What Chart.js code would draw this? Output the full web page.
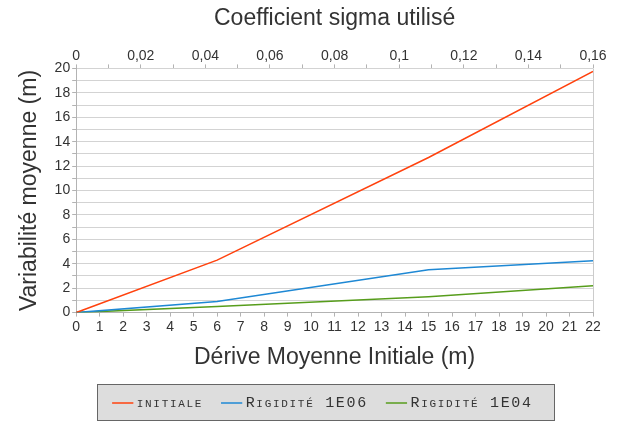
<!DOCTYPE html>
<html>
<head>
<meta charset="utf-8">
<script src="https://cdn.jsdelivr.net/npm/chart.js@4/dist/chart.umd.min.js"></script>
<style>
  html, body { margin: 0; padding: 0; background: #fff; }
  #wrap { width: 619px; height: 423px; }
</style>
</head>
<body>
<div id="wrap"><canvas id="chart" width="619" height="423"></canvas></div>
<script>
// data
const derive = [0, 6, 15, 22];
const initiale = [0, 4.3, 12.7, 19.75];
const rigidite1e06 = [0, 0.9, 3.5, 4.25];
const rigidite1e04 = [0, 0.5, 1.3, 2.2];

const seriesNames = ['initiale', 'Rigidité 1E06', 'Rigidité 1E04'];
const seriesColors = ['#ff420e', '#1e88d4', '#579d1c'];

const textColor = '#333333';
const legendPad = 22;

function pts(ys) {
  return derive.map((x, i) => ({ x: x, y: ys[i] }));
}

// small caps + spacing while the legend measures / writes its text
function withCaps(ctx, fn) {
  const ft = ctx.fillText, mt = ctx.measureText;
  ctx.fillText = function (...a) {
    this.fontVariantCaps = 'small-caps';
    this.letterSpacing = '1.7px';
    return ft.apply(this, a);
  };
  ctx.measureText = function (...a) {
    this.fontVariantCaps = 'small-caps';
    this.letterSpacing = '1.7px';
    return mt.apply(this, a);
  };
  try { return fn(); } finally {
    ctx.fillText = ft;
    ctx.measureText = mt;
    ctx.fontVariantCaps = 'normal';
    ctx.letterSpacing = '0px';
  }
}

// grey box behind the legend
const legendBox = {
  id: 'legendBox',
  afterInit(chart) {
    const lg = chart.legend;
    const origDraw = lg.draw, origFit = lg.fit;
    lg.draw = function () { return withCaps(chart.ctx, () => origDraw.apply(this, arguments)); };
    lg.fit = function () {
      const r = withCaps(chart.ctx, () => origFit.apply(this, arguments));
      this.height = 40;
      return r;
    };
  },
  afterLayout(chart) {
    const lg = chart.legend;
    lg.left += 20;
    lg.right += 20;
    const h = lg.bottom - lg.top;
    lg.top = 403 - legendPad - 7.5;
    lg.bottom = lg.top + h;
  },
  beforeDraw(chart) {
    const ctx = chart.ctx;
    const x0 = 97, x1 = 555;
    const y0 = 384, y1 = 421;
    ctx.save();
    ctx.fillStyle = '#dddddd';
    ctx.fillRect(x0, y0, x1 - x0, y1 - y0);
    ctx.strokeStyle = '#666666';
    ctx.lineWidth = 1;
    ctx.strokeRect(x0 + 0.5, y0 + 0.5, x1 - x0 - 1, y1 - y0 - 1);
    ctx.restore();
  }
};

new Chart(document.getElementById('chart'), {
  type: 'line',
  data: {
    datasets: [
      { label: seriesNames[0], data: pts(initiale), borderColor: seriesColors[0], backgroundColor: seriesColors[0], borderWidth: 1.5, pointRadius: 0 },
      { label: seriesNames[1], data: pts(rigidite1e06), borderColor: seriesColors[1], backgroundColor: seriesColors[1], borderWidth: 1.5, pointRadius: 0 },
      { label: seriesNames[2], data: pts(rigidite1e04), borderColor: seriesColors[2], backgroundColor: seriesColors[2], borderWidth: 1.5, pointRadius: 0 }
    ]
  },
  options: {
    responsive: false,
    animation: false,
    layout: { padding: { left: 16, right: 26, top: 5, bottom: 3 } },
    plugins: {
      legend: {
        position: 'bottom',
        labels: {
          color: '#333',
          font: { family: 'Liberation Mono', size: 15 },
          usePointStyle: true,
          pointStyle: 'line',
          boxWidth: 13,
          padding: legendPad
        }
      },
      tooltip: { enabled: false }
    },
    scales: {
      x: {
        type: 'linear',
        position: 'bottom',
        min: 0, max: 22,
        ticks: { stepSize: 1, color: textColor, font: { family: 'Liberation Sans', size: 14 }, padding: 2, maxRotation: 0, autoSkip: false },
        grid: {
          color: ctx => ctx.tick && ctx.tick.value === 22 ? '#cccccc' : 'rgba(0,0,0,0)',
          tickColor: '#b3b3b3',
          tickLength: 4
        },
        border: { color: '#b3b3b3' },
        title: { display: true, text: 'Dérive Moyenne Initiale (m)', color: textColor, font: { family: 'Liberation Sans', size: 23 }, padding: { top: 6, bottom: 9 } }
      },
      x2: {
        type: 'linear',
        position: 'top',
        min: 0, max: 0.16,
        ticks: {
          stepSize: 0.01,
          color: textColor,
          font: { family: 'Liberation Sans', size: 14 },
          padding: 0,
          maxRotation: 0,
          autoSkip: false,
          callback: v => {
            const k = Math.round(v * 100);
            if (k % 2 !== 0) return '';
            return (k / 100).toString().replace('.', ',');
          }
        },
        grid: { drawOnChartArea: false, tickColor: '#b3b3b3', tickLength: 4 },
        border: { display: false },
        title: { display: true, text: 'Coefficient sigma utilisé', color: textColor, font: { family: 'Liberation Sans', size: 23 }, padding: { top: 0, bottom: 15 } }
      },
      y: {
        type: 'linear',
        min: 0, max: 20,
        ticks: {
          stepSize: 1,
          color: textColor,
          font: { family: 'Liberation Sans', size: 14 },
          padding: 2,
          autoSkip: false,
          callback: v => (v % 2 === 0 ? v : '')
        },
        grid: { color: '#d3d3d3', tickColor: '#b3b3b3', tickLength: 4 },
        border: { color: '#b3b3b3' },
        title: { display: true, text: 'Variabilité moyenne (m)', color: textColor, font: { family: 'Liberation Sans', size: 23 }, padding: { top: 0, bottom: 9 } }
      }
    }
  },
  plugins: [legendBox]
});
</script>
</body>
</html>
